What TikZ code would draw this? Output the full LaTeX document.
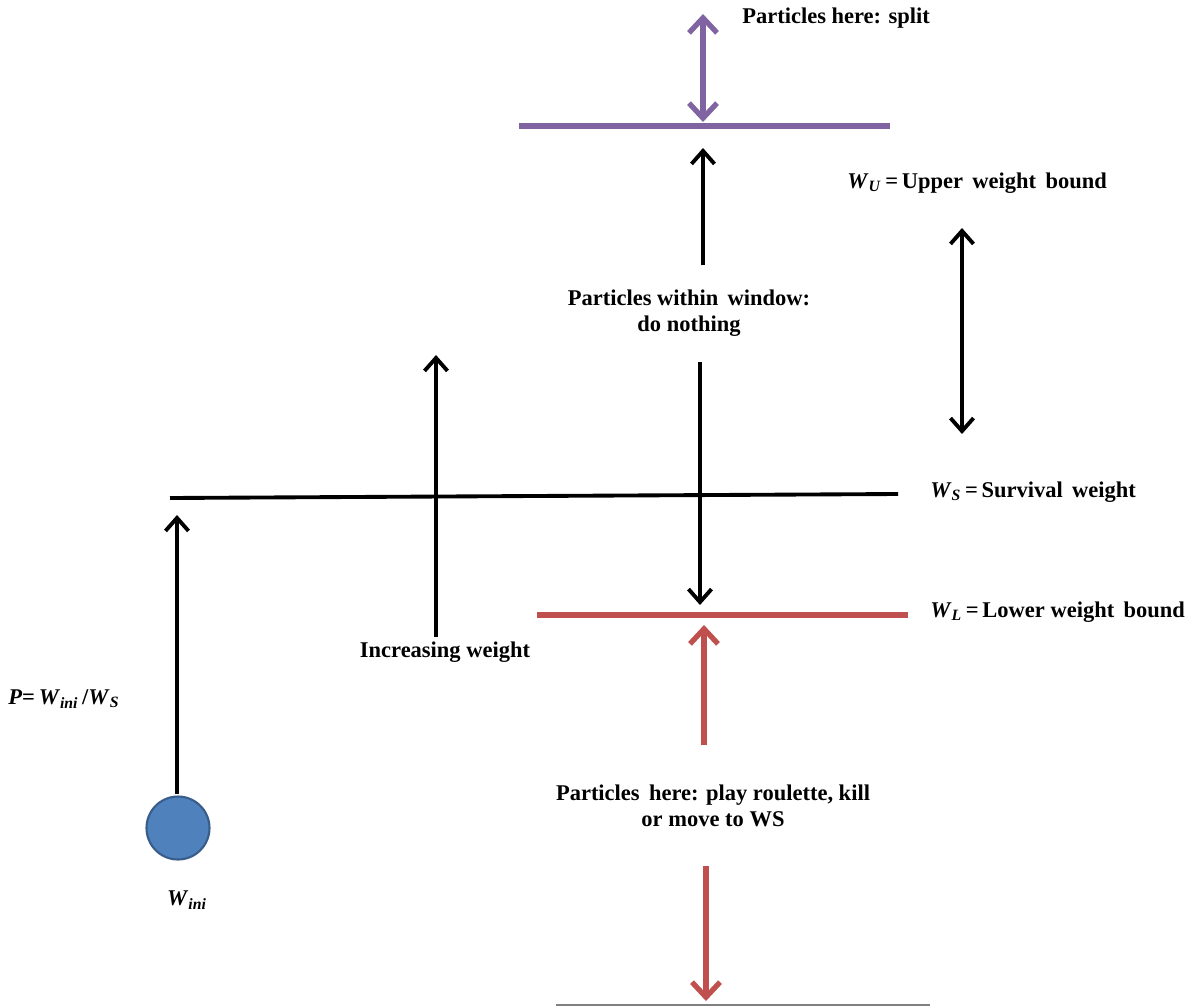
\documentclass[tikz,border=0pt]{standalone}
\usepackage{fontspec}
\setmainfont{Liberation Serif}
\usetikzlibrary{arrows.meta}
\definecolor{wpurple}{RGB}{128,100,162}
\definecolor{wred}{RGB}{192,80,77}
\definecolor{wblue}{RGB}{79,129,189}
\definecolor{wbluedark}{RGB}{56,93,138}
\newcommand\wvar[2]{\textit{#1}\textsubscript{\textit{#2}}}
\begin{document}
\begin{tikzpicture}[x=0.02cm,y=-0.02cm,
  lbl/.style={font=\bfseries\fontsize{12.8}{15}\selectfont, inner sep=0pt},
  blk/.style={line width=2.2pt, black},
  blkarr/.style={blk, -{Straight Barb[length=2.6mm,width=4.6mm,line width=2.2pt]}},
  blkdbl/.style={blk, {Straight Barb[length=2.6mm,width=4.6mm,line width=2.2pt]}-{Straight Barb[length=2.6mm,width=4.6mm,line width=2.2pt]}},
  purarr/.style={line width=3pt, wpurple, {Straight Barb[length=3mm,width=5.6mm,line width=3pt]}-{Straight Barb[length=3mm,width=5.6mm,line width=3pt]}},
  redarr/.style={line width=3pt, wred, -{Straight Barb[length=3mm,width=5.6mm,line width=3pt]}},
]
\useasboundingbox (0,0) rectangle (1199,1007);
\fill[white] (0,0) rectangle (1199,1007);

% level lines
\coordinate (pu1) at (519,126); \coordinate (pu2) at (890,126);
\coordinate (ws1) at (170,498); \coordinate (ws2) at (898,494);
\coordinate (wl1) at (537,615); \coordinate (wl2) at (908,615);
\coordinate (bt1) at (556,1005); \coordinate (bt2) at (930,1005);
\draw[line width=3.4pt, wpurple] (pu1) -- (pu2);
\draw[blk] (ws1) -- (ws2);
\draw[line width=3pt, wred] (wl1) -- (wl2);
\draw[line width=1pt, gray] (bt1) -- (bt2);

% labels
\node[lbl, anchor=west] (split) at (742,18) {Particles here: split};
\node[lbl, anchor=west] (wu) at (847,183) {\wvar{W}{U}\,=\,Upper\, weight\, bound};
\node[lbl, align=center] (window) at (689,313) {Particles within\, window:\\do nothing};
\node[lbl, anchor=west] (ws) at (930,492) {\wvar{W}{S}\,=\,Survival\, weight};
\node[lbl, anchor=west] (wl) at (930,612) {\wvar{W}{L}\,=\,Lower weight\, bound};
\node[lbl] (inc) at (445,652) {Increasing weight};
\node[lbl, anchor=west] (p) at (8,699) {\textit{P}=\,\wvar{W}{ini}\,/\wvar{W}{S}};
\node[lbl, align=center] (roul) at (713,806) {Particles\, here: play roulette, kill\\or move to WS};
\node[lbl] (wini) at (187,900) {\wvar{W}{ini}};

% circle
\node[circle, fill=wblue, draw=wbluedark, line width=1.2pt, minimum size=1.26cm, inner sep=0pt] (ball) at (178,828) {};

% arrows
\coordinate (s1) at (703,14); \coordinate (s2) at (703,122);
\draw[purarr] (s1) -- (s2);
\coordinate (m1) at (703,265); \coordinate (m2) at (703,148);
\draw[blkarr] (m1) -- (m2);
\coordinate (d1) at (962,228); \coordinate (d2) at (962,434);
\draw[blkdbl] (d1) -- (d2);
\coordinate (n1) at (700,362); \coordinate (n2) at (700,605);
\draw[blkarr] (n1) -- (n2);
\coordinate (i1) at (436,637); \coordinate (i2) at (436,355);
\draw[blkarr] (i1) -- (i2);
\coordinate (r1) at (704,745); \coordinate (r2) at (704,625);
\draw[redarr] (r1) -- (r2);
\coordinate (q1) at (706,866); \coordinate (q2) at (706,1001);
\draw[redarr] (q1) -- (q2);
\coordinate (l2) at (177,515);
\coordinate (l1) at (177,794);
\draw[blkarr] (l1) -- (l2);
\end{tikzpicture}
\end{document}
